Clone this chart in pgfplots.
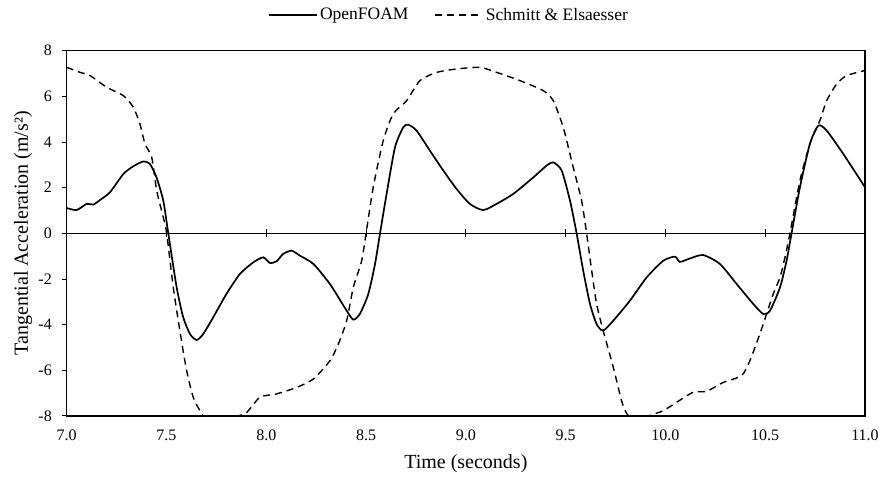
\documentclass[border=0pt]{standalone}
\usepackage{fontspec}
\setmainfont{Liberation Serif}
\usepackage{pgfplots}
\pgfplotsset{compat=1.18}
\begin{document}
\begin{tikzpicture}[x=1pt,y=1pt]
\useasboundingbox (-66.7,-63) rectangle (817.3,416);
% zero line with crossing ticks
\begin{axis}[
  at={(0,0)}, anchor=south west,
  scale only axis, width=798.3pt, height=365.3pt,
  xmin=7, xmax=11, ymin=-8, ymax=8,
  axis x line=middle, axis y line=none,
  xtick={7.5,8,8.5,9,9.5,10,10.5}, xticklabels={},
  ytick=\empty,
  tick align=center, major tick length=8pt,
  x axis line style={-, line width=1.2pt},
  tick style={line width=1pt, black},
]
\end{axis}
\begin{axis}[
  at={(0,0)}, anchor=south west,
  scale only axis, width=798.3pt, height=365.3pt,
  xmin=7, xmax=11, ymin=-8, ymax=8,
  xtick={7,7.5,8,8.5,9,9.5,10,10.5,11},
  xticklabels={7.0,7.5,8.0,8.5,9.0,9.5,10.0,10.5,11.0},
  ytick={-8,-6,-4,-2,0,2,4,6,8},
  yticklabels={-8,-6,-4,-2,0,2,4,6,8},
  x tick style={draw=none},
  ytick pos=left,
  tick align=outside, major tick length=5pt,
  y tick style={line width=1pt, black},
  axis line style={line width=1.2pt},
  tick label style={font=\fontsize{16}{19}\selectfont},
  xticklabel style={yshift=-5.4pt},
  yticklabel style={xshift=-6.4pt},
  xlabel={Time (seconds)},
  ylabel={Tangential Acceleration (m/s²)},
  label style={font=\fontsize{20}{24}\selectfont},
  xlabel style={at={(axis description cs:0.5,-0.130)}, anchor=center},
  ylabel style={at={(axis description cs:-0.0547,0.5)}, anchor=center},
  legend columns=2,
  legend image code/.code={\draw[#1] (0pt,0pt) -- (48pt,0pt);},
  legend style={at={(axis description cs:0.479,1.098)}, anchor=center,
    draw=none, fill=none, font=\fontsize{17.5}{21}\selectfont,
    /tikz/every even column/.append style={column sep=24pt}},
]
\addplot[black, line width=1.7pt, smooth, tension=0.4] coordinates {
(7.000,1.11) (7.050,1.02) (7.100,1.29) (7.133,1.26) (7.167,1.46) (7.217,1.80)
(7.284,2.60) (7.334,2.94) (7.384,3.15) (7.417,3.04) (7.450,2.45) (7.484,1.43)
(7.509,0) (7.551,-2.37) (7.584,-3.68) (7.618,-4.41) (7.651,-4.67) (7.684,-4.41)
(7.734,-3.68) (7.800,-2.66) (7.868,-1.78) (7.935,-1.27) (7.985,-1.05) (8.018,-1.30)
(8.052,-1.22) (8.085,-0.90) (8.127,-0.76) (8.169,-0.98) (8.236,-1.34) (8.319,-2.22)
(8.403,-3.39) (8.436,-3.78) (8.469,-3.53) (8.511,-2.66) (8.545,-1.34) (8.570,0)
(8.603,1.73) (8.645,3.77) (8.686,4.64) (8.711,4.76) (8.753,4.50) (8.820,3.62)
(8.887,2.75) (8.954,1.94) (9.020,1.29) (9.087,1.02) (9.154,1.29) (9.238,1.73)
(9.338,2.45) (9.405,2.97) (9.438,3.11) (9.480,2.75) (9.522,1.43) (9.555,0)
(9.588,-1.63) (9.622,-3.09) (9.655,-3.97) (9.688,-4.26) (9.739,-3.82) (9.822,-2.95)
(9.906,-1.93) (9.989,-1.20) (10.048,-1.02) (10.072,-1.25) (10.123,-1.10) (10.189,-0.95)
(10.273,-1.34) (10.357,-2.22) (10.440,-3.09) (10.490,-3.53) (10.524,-3.39) (10.574,-2.37)
(10.607,-1.20) (10.632,0) (10.674,2.02) (10.724,3.92) (10.766,4.72) (10.808,4.50)
(10.891,3.48) (11.000,2.02)
};
\addlegendentry{OpenFOAM}
\addplot[black, line width=1.4pt, dash pattern=on 7pt off 5pt, smooth, tension=0.4] coordinates {
(7.000,7.27) (7.067,7.05) (7.117,6.91) (7.200,6.40) (7.284,6.03) (7.334,5.52)
(7.367,4.79) (7.392,3.92) (7.426,3.33) (7.451,1.87) (7.484,0.70) (7.501,0)
(7.534,-2.37) (7.567,-4.26) (7.601,-6.01) (7.634,-7.18) (7.668,-7.77) (7.700,-8.15)
(7.780,-8.20) (7.840,-8.05) (7.902,-7.84) (7.968,-7.18) (8.052,-7.03) (8.152,-6.75)
(8.236,-6.38) (8.319,-5.58) (8.361,-4.85) (8.403,-3.82) (8.436,-2.37) (8.478,-1.20)
(8.500,0) (8.536,2.02) (8.586,4.06) (8.636,5.23) (8.703,5.81) (8.770,6.69)
(8.854,7.05) (8.954,7.20) (9.071,7.27) (9.154,7.05) (9.271,6.69) (9.388,6.25)
(9.438,5.81) (9.488,4.64) (9.538,2.89) (9.580,1.43) (9.605,0) (9.630,-1.60)
(9.655,-3.09) (9.688,-4.26) (9.739,-5.87) (9.780,-7.33) (9.805,-7.88) (9.840,-8.15)
(9.890,-8.10) (9.930,-7.95) (9.989,-7.77) (10.056,-7.40) (10.139,-6.96) (10.206,-6.92)
(10.290,-6.53) (10.382,-6.23) (10.423,-5.58) (10.473,-4.41) (10.507,-3.53) (10.540,-2.66)
(10.574,-1.93) (10.599,-1.05) (10.624,0) (10.674,2.31) (10.724,3.92) (10.774,4.94)
(10.808,5.81) (10.858,6.54) (10.908,6.91) (11.000,7.13)
};
\addlegendentry{Schmitt \& Elsaesser}
\end{axis}
\end{tikzpicture}
\end{document}
